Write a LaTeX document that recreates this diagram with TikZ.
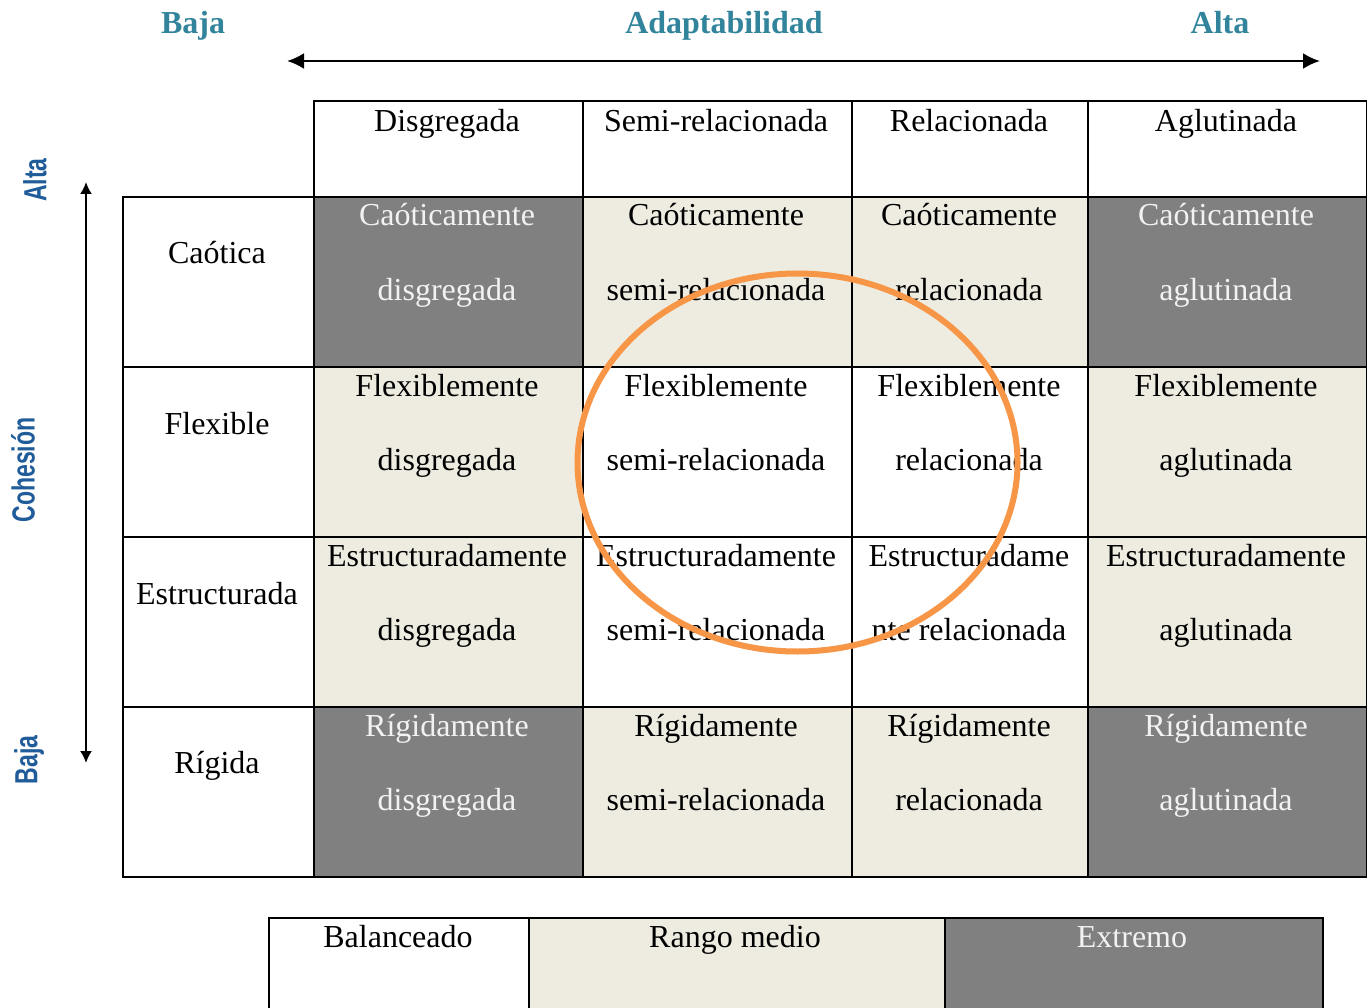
\documentclass[tikz,border=0pt]{standalone}
\usepackage{fontspec}
\setmainfont{Liberation Serif}
\newfontfamily\axisfont{Liberation Sans}
\usetikzlibrary{arrows.meta}
\definecolor{beige}{HTML}{EEECE1}
\definecolor{midgray}{HTML}{808080}
\definecolor{tealtxt}{HTML}{31849B}
\definecolor{axisblue}{HTML}{1F5C99}
\definecolor{ring}{HTML}{F79646}
\definecolor{lighttxt}{HTML}{F2F2F2}
\begin{document}
\begin{tikzpicture}[x=1pt,y=-1pt,
  cellbox/.style={draw=black, line width=2pt, inner sep=0pt, anchor=north west},
  txt/.style={font=\fontsize{32}{38}\selectfont, inner sep=0pt, anchor=base},
  toplab/.style={font=\fontsize{32}{38}\selectfont\bfseries, text=tealtxt, inner sep=0pt, anchor=base},
  sidelab/.style={font=\fontsize{32}{38}\selectfont\axisfont\bfseries, text=axisblue, inner sep=0pt, rotate=90, xscale=0.72},
  axisarrow/.style={line width=2.5pt, {Latex[length=17pt,width=16pt]}-{Latex[length=17pt,width=16pt]}},
  vaxisarrow/.style={line width=2pt, {Latex[length=12pt,width=12pt]}-{Latex[length=12pt,width=12pt]}},
  lite/.style={text=lighttxt}
]
\clip (0,0) rectangle (1367,1008);
\fill[white] (0,0) rectangle (1367,1008);

% axis labels
\node[toplab] (lb) at (193,34) {Baja};
\node[toplab] (lad) at (724,34) {Adaptabilidad};
\node[toplab] (la) at (1220,34) {Alta};
\coordinate (hl) at (287,61);
\coordinate (hr) at (1320,61);
\draw[axisarrow] (hl) -- (hr);

\node[sidelab] (sa) at (35,180) {Alta};
\node[sidelab] (sc) at (23,470) {Cohesión};
\node[sidelab] (sb) at (29,760) {Baja};
\coordinate (vt) at (86,182);
\coordinate (vb) at (86,763);
\draw[vaxisarrow] (vt) -- (vb);

% header row
\node[cellbox, minimum width=269pt, minimum height=96pt] (h1) at (313,100) {};
\node[cellbox, minimum width=269pt, minimum height=96pt] (h2) at (582,100) {};
\node[cellbox, minimum width=236pt, minimum height=96pt] (h3) at (851,100) {};
\node[cellbox, minimum width=279pt, minimum height=96pt] (h4) at (1087,100) {};
\node[txt] (t-h1) at (447,132) {Disgregada};
\node[txt] (t-h2) at (716,132) {Semi-relacionada};
\node[txt] (t-h3) at (969,132) {Relacionada};
\node[txt] (t-h4) at (1226,132) {Aglutinada};

% row label cells
\node[cellbox, minimum width=191pt, minimum height=170pt] (r1) at (122,196) {};
\node[cellbox, minimum width=191pt, minimum height=170pt] (r2) at (122,366) {};
\node[cellbox, minimum width=191pt, minimum height=170pt] (r3) at (122,536) {};
\node[cellbox, minimum width=191pt, minimum height=170pt] (r4) at (122,706) {};
\node[txt] (t-r1) at (217,264) {Caótica};
\node[txt] (t-r2) at (217,434) {Flexible};
\node[txt] (t-r3) at (217,604) {Estructurada};
\node[txt] (t-r4) at (217,773) {Rígida};

% row 1
\node[cellbox, fill=midgray, minimum width=269pt, minimum height=170pt] (c11) at (313,196) {};
\node[cellbox, fill=beige, minimum width=269pt, minimum height=170pt] (c12) at (582,196) {};
\node[cellbox, fill=beige, minimum width=236pt, minimum height=170pt] (c13) at (851,196) {};
\node[cellbox, fill=midgray, minimum width=279pt, minimum height=170pt] (c14) at (1087,196) {};
% row 2
\node[cellbox, fill=beige, minimum width=269pt, minimum height=170pt] (c21) at (313,366) {};
\node[cellbox, fill=white, minimum width=269pt, minimum height=170pt] (c22) at (582,366) {};
\node[cellbox, fill=white, minimum width=236pt, minimum height=170pt] (c23) at (851,366) {};
\node[cellbox, fill=beige, minimum width=279pt, minimum height=170pt] (c24) at (1087,366) {};
% row 3
\node[cellbox, fill=beige, minimum width=269pt, minimum height=170pt] (c31) at (313,536) {};
\node[cellbox, fill=white, minimum width=269pt, minimum height=170pt] (c32) at (582,536) {};
\node[cellbox, fill=white, minimum width=236pt, minimum height=170pt] (c33) at (851,536) {};
\node[cellbox, fill=beige, minimum width=279pt, minimum height=170pt] (c34) at (1087,536) {};
% row 4
\node[cellbox, fill=midgray, minimum width=269pt, minimum height=170pt] (c41) at (313,706) {};
\node[cellbox, fill=beige, minimum width=269pt, minimum height=170pt] (c42) at (582,706) {};
\node[cellbox, fill=beige, minimum width=236pt, minimum height=170pt] (c43) at (851,706) {};
\node[cellbox, fill=midgray, minimum width=279pt, minimum height=170pt] (c44) at (1087,706) {};

% texts row 1
\node[txt, lite] (a11) at (447,226) {Caóticamente};
\node[txt, lite] (b11) at (447,300) {disgregada};
\node[txt] (a12) at (716,226) {Caóticamente};
\node[txt] (b12) at (716,300) {semi-relacionada};
\node[txt] (a13) at (969,226) {Caóticamente};
\node[txt] (b13) at (969,300) {relacionada};
\node[txt, lite] (a14) at (1226,226) {Caóticamente};
\node[txt, lite] (b14) at (1226,300) {aglutinada};
% texts row 2
\node[txt] (a21) at (447,396) {Flexiblemente};
\node[txt] (b21) at (447,470) {disgregada};
\node[txt] (a22) at (716,396) {Flexiblemente};
\node[txt] (b22) at (716,470) {semi-relacionada};
\node[txt] (a23) at (969,396) {Flexiblemente};
\node[txt] (b23) at (969,470) {relacionada};
\node[txt] (a24) at (1226,396) {Flexiblemente};
\node[txt] (b24) at (1226,470) {aglutinada};
% texts row 3
\node[txt] (a31) at (447,566) {Estructuradamente};
\node[txt] (b31) at (447,640) {disgregada};
\node[txt] (a32) at (716,566) {Estructuradamente};
\node[txt] (b32) at (716,640) {semi-relacionada};
\node[txt] (a33) at (969,566) {Estructuradame};
\node[txt] (b33) at (969,640) {nte relacionada};
\node[txt] (a34) at (1226,566) {Estructuradamente};
\node[txt] (b34) at (1226,640) {aglutinada};
% texts row 4
\node[txt, lite] (a41) at (447,736) {Rígidamente};
\node[txt, lite] (b41) at (447,810) {disgregada};
\node[txt] (a42) at (716,736) {Rígidamente};
\node[txt] (b42) at (716,810) {semi-relacionada};
\node[txt] (a43) at (969,736) {Rígidamente};
\node[txt] (b43) at (969,810) {relacionada};
\node[txt, lite] (a44) at (1226,736) {Rígidamente};
\node[txt, lite] (b44) at (1226,810) {aglutinada};

% highlight ring
\draw[ring, line width=6pt] (797.5,462.5) ellipse [x radius=220, y radius=189];

% legend
\node[cellbox, fill=white, minimum width=260pt, minimum height=130pt] (l1) at (268,917) {};
\node[cellbox, fill=beige, minimum width=416pt, minimum height=130pt] (l2) at (528,917) {};
\node[cellbox, fill=midgray, minimum width=378pt, minimum height=130pt] (l3) at (944,917) {};
\node[txt] (tl1) at (398,947) {Balanceado};
\node[txt] (tl2) at (735,947) {Rango medio};
\node[txt, lite] (tl3) at (1132,947) {Extremo};
\end{tikzpicture}
\end{document}
